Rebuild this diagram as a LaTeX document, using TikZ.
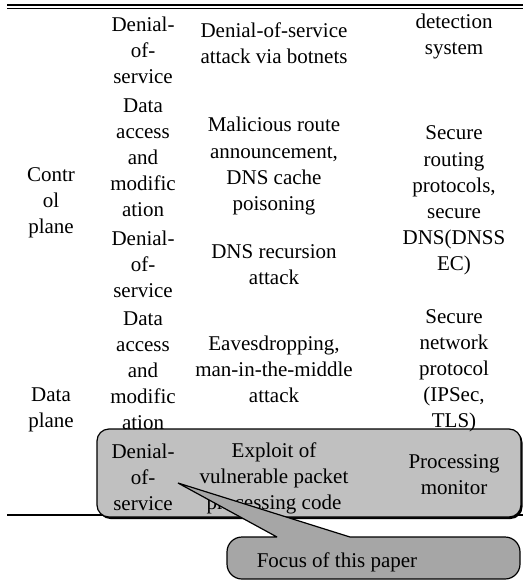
\documentclass[tikz,border=0pt]{standalone}
\usepackage{fontspec}
\setmainfont{Liberation Serif}
\definecolor{boxgray}{RGB}{192,192,192}
\definecolor{callgray}{RGB}{166,166,166}
\begin{document}
\begin{tikzpicture}[x=1pt,y=-1pt,
  t/.style={font=\fontsize{21}{26}\selectfont, inner sep=0pt, anchor=base},
  rule/.style={line width=1.5pt},
  focusbox/.style={fill=boxgray, draw=black, line width=1.2pt, rounded corners=12pt},
  shadowbox/.style={fill=black, rounded corners=12pt},
  callout/.style={fill=callgray, draw=black, line width=1.2pt, line join=miter}]
\useasboundingbox (0,0) rectangle (523,580);
% top double rule
\draw[line width=2.5pt] (7,5) -- (523,5);
\draw[line width=1pt] (7,8.8) -- (523,8.8);
% bottom rule
\draw[rule] (7,515) -- (523,515);
% highlighted row
\fill[shadowbox] (98.5,430.5) rectangle (522.5,519);
\draw[focusbox] (97,429) rectangle (521,517);
% column 1
\foreach \txt/\yy [count=\i] in {Contr/181, ol/207, plane/233, Data/401, plane/427}
  \node[t] (ca-\i) at (51,\yy) {\txt};
% column 2
\foreach \txt/\yy [count=\i] in {Denial-/32, of-/58, service/84,
  Data/112.5, access/138.5, and/164.5, modific/190.5, ation/216.5,
  Denial-/245, of-/271, service/297,
  Data/325.5, access/351.5, and/377.5, modific/403.5, ation/429.5,
  Denial-/458, of-/484, service/510}
  \node[t] (cb-\i) at (143,\yy) {\txt};
% column 3
\foreach \txt/\yy [count=\i] in {Denial-of-service/38, attack via botnets/64,
  Malicious route/132, {announcement,}/158, DNS cache/184, poisoning/210,
  DNS recursion/258, attack/284,
  {Eavesdropping,}/350, man-in-the-middle/376, attack/402,
  Exploit of/457, vulnerable packet/483, processing code/509}
  \node[t] (cc-\i) at (274,\yy) {\txt};
% column 4
\foreach \txt/\yy [count=\i] in {detection/29, system/55,
  Secure/140, routing/166, {protocols,}/192, secure/218, DNS(DNSS/244, EC)/270,
  Secure/323, network/349, protocol/375, {(IPSec,}/401, TLS)/427,
  Processing/468, monitor/494}
  \node[t] (cd-\i) at (454,\yy) {\txt};
% callout
\coordinate (tip) at (178,483);
\coordinate (bl) at (277,537);
\coordinate (br) at (350,537);
\draw[callout] (bl) -- (tip) -- (br) [rounded corners=15pt] -- (520,537) -- (520,579) -- (227,579) -- (227,537) -- (bl);
\node[t] (focus) at (337,567) {Focus of this paper};
\end{tikzpicture}
\end{document}
